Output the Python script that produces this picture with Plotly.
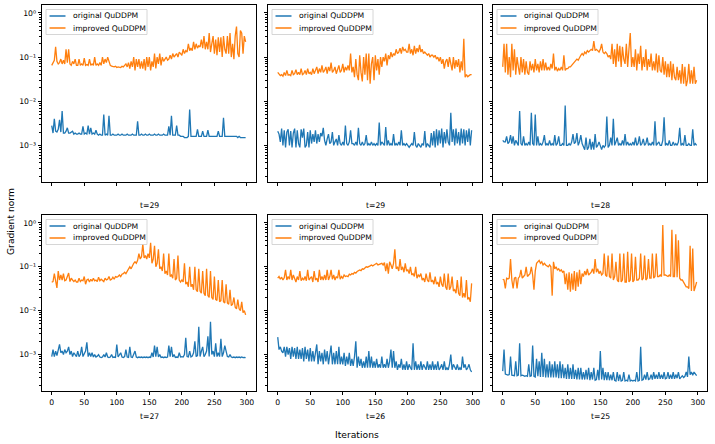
import plotly.graph_objects as go

ITER_STEP = 2
TITLES = ["t=29", "t=29", "t=28", "t=27", "t=26", "t=25"]
NAMES = ["original QuDDPM", "improved QuDDPM"]

orig_1 = [0.0028,0.0019,0.0040,0.0021,0.0020,0.0023,0.0038,0.0020,0.0060,0.0019,
          0.0019,0.0021,0.0025,0.0019,0.0019,0.0020,0.0021,0.0018,0.0019,0.0018,
          0.0018,0.0019,0.0018,0.0018,0.0027,0.0018,0.0019,0.0018,0.0028,0.0018,
          0.0025,0.0018,0.0019,0.0018,0.0022,0.0018,0.0017,0.0018,0.0017,0.0017,
          0.0050,0.0017,0.0018,0.0017,0.0047,0.0017,0.0017,0.0018,0.0017,0.0017,
          0.0017,0.0018,0.0017,0.0017,0.0018,0.0017,0.0017,0.0017,0.0018,0.0017,
          0.0017,0.0017,0.0018,0.0017,0.0017,0.0017,0.0035,0.0017,0.0017,0.0018,
          0.0017,0.0017,0.0018,0.0017,0.0017,0.0018,0.0017,0.0017,0.0017,0.0018,
          0.0017,0.0017,0.0018,0.0017,0.0017,0.0017,0.0018,0.0017,0.0017,0.0017,
          0.0027,0.0017,0.0047,0.0017,0.0017,0.0017,0.0028,0.0017,0.0017,0.0016,
          0.0016,0.0016,0.0015,0.0015,0.0015,0.0016,0.0065,0.0016,0.0016,0.0016,
          0.0016,0.0016,0.0023,0.0016,0.0016,0.0016,0.0021,0.0016,0.0016,0.0016,
          0.0022,0.0016,0.0016,0.0016,0.0016,0.0016,0.0016,0.0016,0.0021,0.0016,
          0.0016,0.0016,0.0042,0.0016,0.0016,0.0016,0.0016,0.0016,0.0016,0.0016,
          0.0016,0.0016,0.0016,0.0015,0.0016,0.0015,0.0015,0.0015,0.0015,0.0015]
impr_1 = [0.065,0.075,0.085,0.17,0.08,0.07,0.075,0.09,0.07,0.085,
          0.07,0.15,0.075,0.15,0.07,0.065,0.08,0.07,0.09,0.065,
          0.065,0.09,0.065,0.07,0.065,0.095,0.065,0.068,0.065,0.09,
          0.065,0.07,0.065,0.1,0.065,0.07,0.065,0.075,0.065,0.1,
          0.07,0.09,0.075,0.1,0.075,0.065,0.062,0.06,0.06,0.062,
          0.058,0.06,0.06,0.058,0.062,0.06,0.065,0.07,0.06,0.075,
          0.055,0.08,0.06,0.1,0.05,0.09,0.06,0.09,0.055,0.08,
          0.055,0.09,0.05,0.1,0.06,0.1,0.05,0.08,0.06,0.12,
          0.055,0.1,0.07,0.12,0.065,0.1,0.08,0.09,0.1,0.085,
          0.09,0.11,0.09,0.12,0.1,0.11,0.12,0.1,0.13,0.12,
          0.11,0.15,0.12,0.14,0.13,0.2,0.14,0.16,0.14,0.22,
          0.15,0.2,0.16,0.18,0.17,0.25,0.16,0.3,0.15,0.22,
          0.15,0.35,0.13,0.2,0.3,0.12,0.25,0.11,0.28,0.13,
          0.28,0.1,0.3,0.15,0.12,0.3,0.12,0.35,0.1,0.2,
          0.09,0.3,0.49,0.12,0.1,0.4,0.35,0.12,0.3,0.22]
orig_2 = [0.0021,0.0018,0.0012,0.0024,0.0010,0.0022,0.0009,0.0020,0.0023,0.0010,
          0.0021,0.0009,0.0019,0.0024,0.0009,0.0022,0.0011,0.0009,0.0023,0.0015,
          0.0024,0.0009,0.0010,0.0020,0.0009,0.0022,0.0011,0.0018,0.0012,0.0022,
          0.0011,0.0018,0.0012,0.0019,0.0016,0.0025,0.0013,0.0010,0.0014,0.0018,
          0.0011,0.0012,0.0020,0.0010,0.0012,0.0014,0.0010,0.0017,0.0011,0.0010,
          0.0012,0.0010,0.0028,0.0011,0.0010,0.0012,0.0022,0.0011,0.0011,0.0010,
          0.0012,0.0010,0.0025,0.0011,0.0010,0.0012,0.0010,0.0011,0.0017,0.0010,
          0.0011,0.0010,0.0012,0.0010,0.0011,0.0010,0.0011,0.0010,0.0033,0.0010,
          0.0012,0.0011,0.0010,0.0026,0.0010,0.0013,0.0010,0.0011,0.0010,0.0018,
          0.0010,0.0011,0.0010,0.0012,0.0010,0.0022,0.0010,0.0011,0.0010,0.0011,
          0.0010,0.0009,0.0010,0.0011,0.0010,0.0020,0.0010,0.0009,0.0011,0.0010,
          0.0009,0.0011,0.0010,0.0021,0.0009,0.0011,0.0010,0.0009,0.0019,0.0010,
          0.0021,0.0009,0.0023,0.0010,0.0022,0.0011,0.0024,0.0009,0.0020,0.0011,
          0.0023,0.0012,0.0010,0.0055,0.0012,0.0023,0.0010,0.0024,0.0011,0.0020,
          0.0010,0.0024,0.0011,0.0023,0.0010,0.0022,0.0012,0.0024,0.0010,0.0022]
impr_2 = [0.045,0.042,0.038,0.04,0.037,0.045,0.038,0.05,0.039,0.04,
          0.038,0.05,0.04,0.042,0.052,0.04,0.045,0.04,0.055,0.04,
          0.042,0.05,0.04,0.055,0.042,0.045,0.04,0.055,0.042,0.05,
          0.06,0.042,0.055,0.045,0.065,0.045,0.05,0.06,0.042,0.06,
          0.048,0.075,0.045,0.05,0.06,0.042,0.055,0.065,0.045,0.05,
          0.07,0.045,0.06,0.05,0.065,0.05,0.12,0.045,0.06,0.035,
          0.09,0.04,0.03,0.11,0.045,0.028,0.1,0.04,0.12,0.03,
          0.12,0.025,0.07,0.1,0.03,0.11,0.05,0.09,0.04,0.1,
          0.06,0.1,0.08,0.12,0.065,0.11,0.09,0.13,0.1,0.12,
          0.11,0.15,0.12,0.13,0.16,0.12,0.17,0.14,0.15,0.13,
          0.13,0.2,0.12,0.15,0.11,0.18,0.12,0.16,0.13,0.19,
          0.13,0.15,0.12,0.13,0.12,0.11,0.12,0.1,0.11,0.11,
          0.1,0.11,0.09,0.1,0.08,0.1,0.07,0.09,0.055,0.08,
          0.09,0.06,0.1,0.07,0.05,0.1,0.055,0.085,0.06,0.09,
          0.045,0.08,0.05,0.26,0.035,0.04,0.036,0.038,0.04,0.04]
orig_3 = [0.0013,0.0012,0.0012,0.0016,0.0011,0.0012,0.0017,0.0011,0.0016,0.0010,
          0.0013,0.0011,0.0010,0.0060,0.0011,0.0010,0.0016,0.0010,0.0011,0.0010,
          0.0012,0.0010,0.0055,0.0011,0.0010,0.0050,0.0010,0.0016,0.0010,0.0011,
          0.0010,0.0012,0.0017,0.0010,0.0011,0.0010,0.0013,0.0010,0.0011,0.0010,
          0.0017,0.0010,0.0011,0.0016,0.0010,0.0010,0.0011,0.0010,0.0080,0.0010,
          0.0010,0.0011,0.0010,0.0012,0.0018,0.0011,0.0012,0.0019,0.0010,0.0012,
          0.0017,0.0011,0.0009,0.0008,0.0015,0.0008,0.0009,0.0014,0.0008,0.0012,
          0.0008,0.0018,0.0009,0.0010,0.0012,0.0009,0.0008,0.0010,0.0009,0.0010,
          0.0045,0.0009,0.0010,0.0015,0.0010,0.0040,0.0010,0.0012,0.0015,0.0010,
          0.0011,0.0010,0.0013,0.0010,0.0018,0.0010,0.0012,0.0010,0.0011,0.0010,
          0.0012,0.0010,0.0015,0.0010,0.0011,0.0016,0.0010,0.0011,0.0014,0.0010,
          0.0011,0.0015,0.0010,0.0011,0.0010,0.0012,0.0010,0.0035,0.0010,0.0011,
          0.0012,0.0010,0.0010,0.0013,0.0043,0.0010,0.0011,0.0010,0.0013,0.0010,
          0.0010,0.0012,0.0010,0.0011,0.0010,0.0012,0.0025,0.0010,0.0011,0.0010,
          0.0017,0.0010,0.0010,0.0011,0.0010,0.0010,0.0023,0.0010,0.0011,0.0010]
impr_3 = [0.06,0.2,0.045,0.2,0.04,0.1,0.035,0.2,0.05,0.15,
          0.04,0.1,0.06,0.04,0.1,0.045,0.09,0.04,0.08,0.045,
          0.04,0.08,0.05,0.07,0.045,0.09,0.05,0.07,0.045,0.08,
          0.05,0.09,0.05,0.075,0.05,0.06,0.05,0.07,0.055,0.12,
          0.05,0.06,0.048,0.055,0.05,0.06,0.05,0.11,0.05,0.055,
          0.055,0.06,0.06,0.065,0.07,0.075,0.08,0.09,0.085,0.1,
          0.11,0.12,0.11,0.13,0.12,0.14,0.13,0.14,0.15,0.14,
          0.23,0.14,0.15,0.14,0.13,0.15,0.2,0.13,0.12,0.13,
          0.12,0.1,0.11,0.09,0.2,0.07,0.15,0.06,0.2,0.08,
          0.18,0.06,0.17,0.09,0.07,0.2,0.06,0.15,0.35,0.06,
          0.1,0.06,0.15,0.05,0.12,0.07,0.18,0.05,0.1,0.06,
          0.15,0.05,0.09,0.06,0.12,0.05,0.08,0.05,0.12,0.045,
          0.11,0.05,0.045,0.1,0.04,0.08,0.035,0.07,0.035,0.08,
          0.03,0.07,0.035,0.03,0.06,0.03,0.05,0.025,0.07,0.025,
          0.06,0.022,0.03,0.07,0.025,0.05,0.025,0.06,0.025,0.03]
orig_4 = [0.0009,0.0013,0.0009,0.0012,0.00095,0.0014,0.0017,0.0011,0.0012,0.0010,
          0.0013,0.0011,0.0012,0.0015,0.0010,0.0012,0.0009,0.0011,0.0010,0.0009,
          0.0012,0.0009,0.0010,0.0015,0.0009,0.0011,0.0012,0.0019,0.0009,0.0011,
          0.0009,0.0011,0.00088,0.0010,0.00088,0.00092,0.0010,0.00088,0.00086,0.00088,
          0.0010,0.00088,0.0011,0.00088,0.00086,0.00088,0.0010,0.00086,0.00088,0.00086,
          0.0017,0.00088,0.0010,0.0011,0.00088,0.00086,0.0009,0.0013,0.00088,0.00086,
          0.0015,0.00088,0.00086,0.0010,0.0012,0.00088,0.00085,0.00088,0.00086,0.00088,
          0.00085,0.00088,0.00086,0.00088,0.00085,0.00088,0.00086,0.0011,0.00088,0.0016,
          0.0009,0.0015,0.00088,0.0010,0.00086,0.00088,0.00085,0.00088,0.00086,0.00088,
          0.0016,0.0009,0.0015,0.00088,0.0010,0.00086,0.00088,0.00086,0.0011,0.00088,
          0.0009,0.00088,0.0010,0.0024,0.0009,0.00088,0.0012,0.00088,0.00092,0.0011,
          0.0020,0.0009,0.00095,0.0043,0.0009,0.0012,0.0015,0.0009,0.0010,0.0012,
          0.0026,0.0009,0.0056,0.0010,0.0012,0.0009,0.0018,0.0009,0.0011,0.0009,
          0.0023,0.0009,0.0011,0.0016,0.0012,0.0009,0.00088,0.0010,0.00088,0.00086,
          0.00088,0.00085,0.00088,0.00086,0.00088,0.00085,0.00088,0.00085,0.00086,0.00085]
impr_4 = [0.045,0.046,0.07,0.045,0.033,0.08,0.05,0.065,0.05,0.07,
          0.048,0.05,0.06,0.072,0.046,0.055,0.05,0.046,0.05,0.045,
          0.045,0.055,0.046,0.05,0.048,0.06,0.04,0.05,0.052,0.045,
          0.052,0.047,0.055,0.048,0.05,0.046,0.058,0.048,0.052,0.05,
          0.046,0.055,0.05,0.052,0.06,0.05,0.052,0.058,0.052,0.06,
          0.058,0.06,0.065,0.06,0.068,0.07,0.075,0.07,0.08,0.085,
          0.1,0.09,0.11,0.12,0.13,0.12,0.14,0.2,0.15,0.17,
          0.33,0.16,0.18,0.15,0.2,0.16,0.35,0.12,0.15,0.3,
          0.1,0.12,0.25,0.09,0.1,0.08,0.2,0.07,0.08,0.065,
          0.2,0.06,0.065,0.055,0.15,0.05,0.055,0.18,0.05,0.045,
          0.05,0.045,0.12,0.04,0.045,0.035,0.1,0.035,0.04,0.03,
          0.1,0.03,0.027,0.09,0.028,0.025,0.08,0.025,0.022,0.09,
          0.022,0.02,0.08,0.02,0.018,0.06,0.018,0.017,0.05,0.016,
          0.017,0.05,0.016,0.015,0.04,0.015,0.014,0.03,0.013,0.014,
          0.02,0.012,0.011,0.018,0.011,0.01,0.016,0.009,0.01,0.008]
orig_5 = [0.0025,0.0013,0.0015,0.0012,0.0011,0.0015,0.0009,0.0015,0.0010,0.0014,
          0.0008,0.0015,0.0009,0.0014,0.0008,0.0015,0.0008,0.0013,0.0008,0.0014,
          0.0007,0.0015,0.0008,0.0013,0.0007,0.0014,0.0007,0.0012,0.0007,0.0010,
          0.0017,0.0006,0.0012,0.0007,0.0011,0.0006,0.0013,0.0007,0.0012,0.0006,
          0.0010,0.0016,0.0006,0.0011,0.0006,0.0012,0.0006,0.0015,0.0006,0.0009,
          0.0006,0.0011,0.00055,0.0009,0.0006,0.0011,0.00055,0.0008,0.00055,0.0009,
          0.0020,0.0005,0.0009,0.00055,0.0008,0.0005,0.0007,0.0005,0.0009,0.0005,
          0.0012,0.0005,0.0009,0.0005,0.0007,0.0005,0.0008,0.0005,0.0006,0.0005,
          0.0009,0.0005,0.0006,0.0005,0.0008,0.0005,0.0007,0.0013,0.0005,0.0012,
          0.0005,0.0007,0.00045,0.0006,0.0005,0.0008,0.00045,0.0006,0.00045,0.0007,
          0.00045,0.0006,0.0005,0.00045,0.0018,0.00045,0.0007,0.00045,0.0006,0.00045,
          0.0007,0.00045,0.0006,0.0005,0.00045,0.0007,0.00045,0.0006,0.00045,0.0007,
          0.00045,0.0006,0.00045,0.0007,0.00045,0.0005,0.0006,0.00045,0.0007,0.00045,
          0.0005,0.00045,0.0006,0.0010,0.00045,0.0006,0.0005,0.00045,0.0006,0.00045,
          0.0005,0.00045,0.0009,0.0005,0.0006,0.00045,0.0005,0.0006,0.00045,0.0004]
impr_5 = [0.055,0.06,0.052,0.058,0.05,0.056,0.085,0.05,0.06,0.052,
          0.085,0.05,0.065,0.055,0.045,0.06,0.05,0.08,0.048,0.055,
          0.05,0.06,0.048,0.085,0.05,0.055,0.06,0.045,0.08,0.05,
          0.055,0.045,0.085,0.05,0.06,0.05,0.065,0.05,0.085,0.05,
          0.06,0.085,0.052,0.065,0.05,0.06,0.055,0.085,0.052,0.06,
          0.055,0.065,0.06,0.062,0.06,0.068,0.065,0.07,0.068,0.075,
          0.072,0.078,0.08,0.085,0.082,0.09,0.088,0.095,0.1,0.098,
          0.1,0.105,0.11,0.105,0.11,0.115,0.12,0.11,0.115,0.12,
          0.12,0.11,0.125,0.08,0.12,0.07,0.13,0.11,0.09,0.12,
          0.25,0.09,0.1,0.08,0.15,0.085,0.1,0.075,0.12,0.08,
          0.085,0.07,0.1,0.065,0.07,0.06,0.1,0.055,0.065,0.06,
          0.07,0.05,0.055,0.045,0.07,0.05,0.045,0.075,0.045,0.05,
          0.04,0.06,0.04,0.045,0.035,0.06,0.04,0.035,0.07,0.035,
          0.03,0.07,0.03,0.035,0.06,0.028,0.03,0.025,0.05,0.025,
          0.022,0.06,0.02,0.025,0.02,0.05,0.018,0.02,0.016,0.042]
orig_6 = [0.00042,0.0013,0.00036,0.00035,0.00034,0.00035,0.0009,0.00034,0.00034,0.00033,
          0.0007,0.00033,0.00034,0.0018,0.00033,0.00034,0.00033,0.00032,0.00033,0.00032,
          0.0006,0.00032,0.00033,0.0016,0.00032,0.00031,0.0008,0.00032,0.0007,0.00031,
          0.0011,0.00031,0.0008,0.0003,0.0006,0.0003,0.0007,0.0003,0.0006,0.0003,
          0.0007,0.0003,0.0006,0.00029,0.0007,0.00029,0.0006,0.00029,0.0005,0.00028,
          0.0006,0.00028,0.0005,0.00028,0.0006,0.00028,0.00045,0.00027,0.0005,0.00027,
          0.0005,0.00027,0.0004,0.00027,0.00045,0.00027,0.0005,0.00026,0.0004,0.00027,
          0.0005,0.00026,0.00027,0.00045,0.00026,0.0012,0.00027,0.0005,0.00026,0.0004,
          0.00026,0.0004,0.00026,0.00035,0.00026,0.0004,0.00026,0.00025,0.0004,0.00025,
          0.00035,0.00025,0.00026,0.0004,0.00025,0.00026,0.00025,0.00035,0.00025,0.00026,
          0.00025,0.00026,0.00025,0.0004,0.00025,0.00026,0.0015,0.00026,0.00027,0.00035,
          0.00027,0.0004,0.00027,0.00028,0.00035,0.00027,0.0004,0.00028,0.00035,0.00028,
          0.0004,0.00028,0.00035,0.00028,0.0004,0.00028,0.00029,0.0004,0.00028,0.00035,
          0.00028,0.0004,0.00028,0.00035,0.00029,0.0004,0.00028,0.0003,0.00033,0.0003,
          0.00032,0.0004,0.00031,0.0009,0.00035,0.0004,0.00034,0.0004,0.00035,0.00033]
impr_6 = [0.052,0.05,0.032,0.055,0.053,0.055,0.15,0.05,0.032,0.055,
          0.058,0.032,0.055,0.06,0.085,0.055,0.06,0.065,0.1,0.06,
          0.065,0.07,0.1,0.065,0.03,0.08,0.12,0.13,0.14,0.12,
          0.13,0.11,0.12,0.11,0.105,0.1,0.11,0.1,0.022,0.13,
          0.09,0.1,0.085,0.09,0.08,0.085,0.075,0.08,0.04,0.07,
          0.03,0.075,0.027,0.07,0.03,0.08,0.028,0.075,0.035,0.085,
          0.04,0.07,0.06,0.08,0.065,0.09,0.065,0.07,0.075,0.09,
          0.07,0.15,0.075,0.09,0.07,0.08,0.065,0.07,0.2,0.065,
          0.06,0.18,0.06,0.055,0.2,0.05,0.06,0.13,0.05,0.045,
          0.2,0.045,0.05,0.2,0.045,0.045,0.22,0.045,0.05,0.2,
          0.045,0.05,0.17,0.05,0.05,0.055,0.2,0.05,0.055,0.18,
          0.05,0.055,0.15,0.055,0.055,0.2,0.055,0.06,0.2,0.06,
          0.06,0.065,0.06,0.9,0.065,0.065,0.062,0.06,0.065,0.06,
          0.7,0.06,0.06,0.55,0.058,0.4,0.055,0.05,0.05,0.045,
          0.04,0.035,0.035,0.032,0.3,0.028,0.26,0.028,0.035,0.045]

ORIG = [orig_1, orig_2, orig_3, orig_4, orig_5, orig_6]
IMPR = [impr_1, impr_2, impr_3, impr_4, impr_5, impr_6]

X_TICKS = [0, 50, 100, 150, 200, 250, 300]
Y_TICKS = [1e-3, 1e-2, 1e-1, 1e0]
Y_TICKTEXT = ["10\u207b\u00b3", "10\u207b\u00b2", "10\u207b\u00b9", "10\u2070"]
Y_MINOR = [m * 10.0 ** e for e in (-4, -3, -2, -1) for m in range(2, 10)]

W, H = 715, 444
BLUE, ORANGE = "#1f77b4", "#ff7f0e"
COLORS = [BLUE, ORANGE]
FONT = "DejaVu Sans"
FS = 7.7
LW = 1.3

col_px = [(42, 256), (268, 482), (493, 707)]
row_px = [(5, 182), (215, 391)]

def px_x(p):
    return p / W

def px_y(p):
    return 1 - p / H

fig = go.Figure()
layout = dict(
    width=W, height=H, margin=dict(l=0, r=0, t=0, b=0),
    paper_bgcolor="white", plot_bgcolor="white",
    font=dict(family=FONT, size=FS, color="black"),
    showlegend=False,
)
annotations = []
shapes = []

for k in range(6):
    r, c = divmod(k, 3)
    sfx = "" if k == 0 else str(k + 1)
    xa, ya = "x" + sfx, "y" + sfx
    for series, name, color in ((ORIG[k], NAMES[0], BLUE), (IMPR[k], NAMES[1], ORANGE)):
        xs = [ITER_STEP * i for i in range(len(series))]
        fig.add_trace(go.Scatter(x=xs, y=series, mode="lines", name=name,
                                 line=dict(color=color, width=LW), xaxis=xa, yaxis=ya))
    x0, x1 = col_px[c]
    y0, y1 = row_px[r]
    layout["xaxis" + sfx] = dict(
        domain=[px_x(x0), px_x(x1)], anchor=ya, range=[-14.95, 313.95],
        tickmode="array", tickvals=X_TICKS, showticklabels=(r == 1),
        ticks="outside", ticklen=3.5, tickwidth=0.8, tickcolor="black",
        showline=True, mirror=True, linecolor="black", linewidth=0.8,
        showgrid=False, zeroline=False, tickfont=dict(size=FS, family=FONT),
    )
    layout["yaxis" + sfx] = dict(
        domain=[px_y(y1), px_y(y0)], anchor=xa, type="log", range=[-3.83, 0.18],
        tickmode="array", tickvals=Y_TICKS, ticktext=Y_TICKTEXT,
        showticklabels=(c == 0),
        ticks="outside", ticklen=3.5, tickwidth=0.8, tickcolor="black",
        minor=dict(tickmode="array", tickvals=Y_MINOR, ticks="outside", ticklen=2,
                   tickwidth=0.6, tickcolor="black", showgrid=False),
        showline=True, mirror=True, linecolor="black", linewidth=0.8,
        showgrid=False, zeroline=False, tickfont=dict(size=FS, family=FONT),
    )
    # legend box (drawn like matplotlib's in-axes legend)
    shapes.append(dict(type="rect", xref="paper", yref="paper", layer="above",
                       x0=px_x(x0 + 4), x1=px_x(x0 + 105),
                       y0=px_y(y0 + 29.5), y1=px_y(y0 + 4.5),
                       fillcolor="rgba(255,255,255,0.8)",
                       line=dict(color="#cccccc", width=0.8)))
    for j, (name, color) in enumerate(zip(NAMES, COLORS)):
        ly = y0 + 11 + 12 * j
        shapes.append(dict(type="line", xref="paper", yref="paper", layer="above",
                           x0=px_x(x0 + 7.5), x1=px_x(x0 + 23.5),
                           y0=px_y(ly), y1=px_y(ly),
                           line=dict(color=color, width=1.5)))
        annotations.append(dict(text=name, x=px_x(x0 + 28.5), y=px_y(ly),
                                xref="paper", yref="paper", showarrow=False,
                                xanchor="left", yanchor="middle",
                                font=dict(size=FS, family=FONT)))
    title_y = 206 if r == 0 else 416
    annotations.append(dict(
        text=TITLES[k], x=px_x((x0 + x1) / 2), y=px_y(title_y), xref="paper", yref="paper",
        showarrow=False, xanchor="center", yanchor="middle", font=dict(size=FS, family=FONT)))

annotations.append(dict(text="Iterations", x=px_x(357), y=px_y(434), xref="paper", yref="paper",
                        showarrow=False, xanchor="center", yanchor="middle",
                        font=dict(size=9.2, family=FONT)))
annotations.append(dict(text="Gradient norm", x=px_x(10), y=px_y(222), xref="paper", yref="paper",
                        showarrow=False, xanchor="center", yanchor="middle", textangle=-90,
                        font=dict(size=9.2, family=FONT)))
layout["annotations"] = annotations
layout["shapes"] = shapes
fig.update_layout(**layout)
fig.write_html("out.html")
